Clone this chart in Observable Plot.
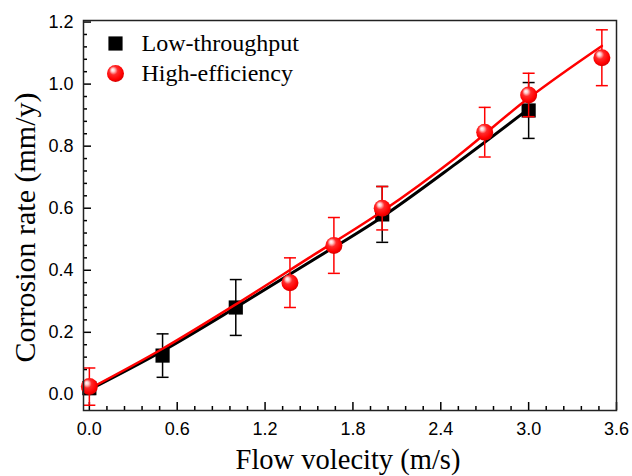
<!DOCTYPE html>
<html>
<head>
<meta charset="utf-8">
<script src="https://cdn.jsdelivr.net/npm/d3@7"></script>
<script src="https://cdn.jsdelivr.net/npm/@observablehq/plot@0.6"></script>
<style>
  html, body { margin: 0; padding: 0; background: #fff; }
  #chart svg { display: block; }
</style>
</head>
<body>
<div id="chart"></div>
<script>
// ---- data ----
const lowX   = [0, 0.5, 1.0, 2.0, 3.0];
const lowY   = [0.02, 0.125, 0.28, 0.58, 0.915];
const lowErr = [0.02, 0.07, 0.09, 0.09, 0.09];

const highX   = [0, 1.37, 1.67, 2.0, 2.7, 3.0, 3.5];
const highY   = [0.025, 0.36, 0.48, 0.60, 0.845, 0.965, 1.085];
const highErr = [0.06, 0.08, 0.09, 0.07, 0.08, 0.07, 0.09];

const fitLowX  = [0, 0.5, 1.0, 1.5, 2.0, 2.5, 3.0];
const fitLowY  = [0.015, 0.14, 0.28, 0.425, 0.572, 0.742, 0.92];
const fitHighX = [0, 0.5, 1.0, 1.5, 2.0, 2.5, 3.0, 3.5];
const fitHighY = [0.018, 0.147, 0.29, 0.44, 0.59, 0.762, 0.955, 1.123];

const xTicks = [0.0, 0.6, 1.2, 1.8, 2.4, 3.0, 3.6];
const yTicks = [0.0, 0.2, 0.4, 0.6, 0.8, 1.0, 1.2];

const seriesNames = ["Low-throughput", "High-efficiency"];
const xLabel = "Flow volecity (m/s)";
const yLabel = "Corrosion rate (mm/y)";

// ---- tables built from the arrays ----
const low  = lowX.map((x, i) => ({x, y: lowY[i], e: lowErr[i]}));
const high = highX.map((x, i) => ({x, y: highY[i], e: highErr[i]}));
const fitLow  = fitLowX.map((x, i) => ({x, y: fitLowY[i]}));
const fitHigh = fitHighX.map((x, i) => ({x, y: fitHighY[i]}));

const xMinor = d3.range(0, 3.6001, 0.12).filter(v => !xTicks.some(t => Math.abs(t - v) < 1e-6));
const yMinor = d3.range(0, 1.2001, 0.04).filter(v => !yTicks.some(t => Math.abs(t - v) < 1e-6));

const W = 632, H = 476;
const mL = 83, mR = 16, mT = 20, mB = 66;
const frameW = W - mL - mR, frameH = H - mT - mB;

const cap = {draw(context, size) { const w = Math.sqrt(size / Math.PI); context.moveTo(-w, 0); context.lineTo(w, 0); }};
const serif = "Liberation Serif, Times New Roman, serif";

const plot = Plot.plot({
  width: W, height: H,
  marginLeft: mL, marginRight: mR, marginTop: mT, marginBottom: mB,
  style: {fontFamily: "Liberation Sans, Arial, sans-serif", fontSize: "18px", color: "#000", background: "#fff"},
  x: {domain: [-0.04, 3.6]},
  y: {domain: [-0.052, 1.205]},
  marks: [
    Plot.axisX({ticks: xTicks, tickSize: 0, tickPadding: 12, tickFormat: d3.format(".1f"), fontSize: 18, label: null}),
    Plot.axisY({ticks: yTicks, tickSize: 0, tickPadding: 10, tickFormat: d3.format(".1f"), fontSize: 18, label: null}),
    // inward ticks
    Plot.tickX(xTicks, {x: d => d, insetTop: frameH - 8, stroke: "#000", strokeWidth: 1.5}),
    Plot.tickX(xMinor, {x: d => d, insetTop: frameH - 4, stroke: "#000", strokeWidth: 1.5}),
    Plot.tickY(yTicks, {y: d => d, insetRight: frameW - 8, stroke: "#000", strokeWidth: 1.5}),
    Plot.tickY(yMinor, {y: d => d, insetRight: frameW - 4, stroke: "#000", strokeWidth: 1.5}),
    // low-throughput
    Plot.ruleX(low, {x: "x", y1: d => d.y - d.e, y2: d => d.y + d.e, stroke: "#000", strokeWidth: 1.5}),
    Plot.dot(low, {x: "x", y: d => d.y - d.e, symbol: cap, r: 6, stroke: "#000", strokeWidth: 1.5}),
    Plot.dot(low, {x: "x", y: d => d.y + d.e, symbol: cap, r: 6, stroke: "#000", strokeWidth: 1.5}),
    Plot.line(fitLow, {x: "x", y: "y", stroke: "#000", strokeWidth: 3, curve: "monotone-x"}),
    Plot.dot(low, {x: "x", y: "y", symbol: "square", r: 8, fill: "#000"}),
    // high-efficiency
    Plot.ruleX(high, {x: "x", y1: d => d.y - d.e, y2: d => d.y + d.e, stroke: "#ff0000", strokeWidth: 1.5}),
    Plot.dot(high, {x: "x", y: d => d.y - d.e, symbol: cap, r: 6, stroke: "#ff0000", strokeWidth: 1.5}),
    Plot.dot(high, {x: "x", y: d => d.y + d.e, symbol: cap, r: 6, stroke: "#ff0000", strokeWidth: 1.5}),
    Plot.line(fitHigh, {x: "x", y: "y", stroke: "#ff0000", strokeWidth: 2.5, curve: "monotone-x"}),
    Plot.dot(high, {x: "x", y: "y", r: 8.5, fill: "url(#ball)"}),
    Plot.frame({stroke: "#222", strokeWidth: 1.5}),
    // legend
    Plot.dot([seriesNames[0]], {frameAnchor: "top-left", dx: 32, dy: 23, symbol: "square", r: 8, fill: "#000"}),
    Plot.dot([seriesNames[1]], {frameAnchor: "top-left", dx: 32, dy: 53, r: 8.5, fill: "url(#ball)"}),
    Plot.text([seriesNames[0]], {text: d => d, frameAnchor: "top-left", dx: 58, dy: 23, textAnchor: "start", lineAnchor: "middle", fontSize: 24, fontFamily: serif, fill: "#000"}),
    Plot.text([seriesNames[1]], {text: d => d, frameAnchor: "top-left", dx: 58, dy: 53, textAnchor: "start", lineAnchor: "middle", fontSize: 24, fontFamily: serif, fill: "#000"}),
    // axis titles
    Plot.text([xLabel], {text: d => d, frameAnchor: "bottom", dx: -2, dy: 49, textAnchor: "middle", lineAnchor: "middle", fontSize: 28.5, fontFamily: serif, fill: "#000"}),
    Plot.text([yLabel], {text: d => d, frameAnchor: "left", dx: -58, dy: 12, textAnchor: "middle", lineAnchor: "middle", rotate: -90, fontSize: 30, fontFamily: serif, fill: "#000"})
  ]
});

plot.insertAdjacentHTML("afterbegin",
  `<defs><radialGradient id="ball" cx="45%" cy="40%" r="60%" fx="33%" fy="28%">
     <stop offset="0%" stop-color="#ffffff"/>
     <stop offset="18%" stop-color="#ffc8c8"/>
     <stop offset="42%" stop-color="#ff2a2a"/>
     <stop offset="80%" stop-color="#ff0000"/>
     <stop offset="100%" stop-color="#d40000"/>
   </radialGradient></defs>`);

document.getElementById("chart").appendChild(plot);
</script>
</body>
</html>
